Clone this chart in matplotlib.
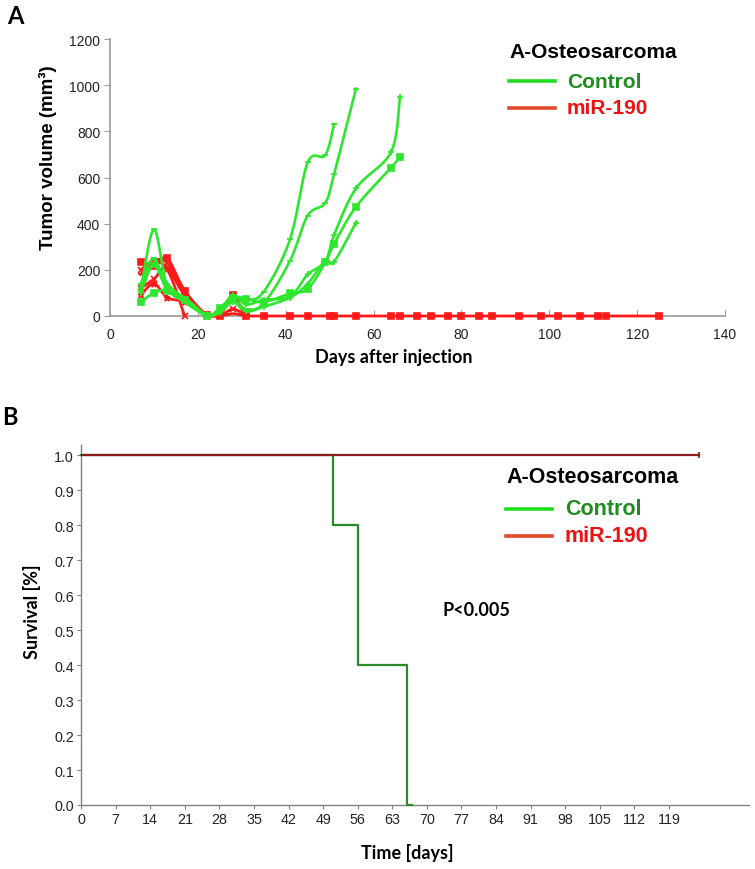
import numpy as np
import matplotlib
matplotlib.use("Agg")
import matplotlib.pyplot as plt
from matplotlib.lines import Line2D

W, H = 755, 870
ARIAL = "Liberation Sans"
CALIBRI = "Lato"

# ---- panel A: tumor volume (mm3) per mouse ----
ctrl_days = [
    [7, 10, 13, 17, 22, 25, 28, 31, 35, 41, 45, 49, 51, 56],
    [7, 10, 13, 17, 22, 25, 28, 31, 35, 41, 45, 49, 51],
    [7, 10, 13, 17, 22, 25, 28, 31, 35, 41, 45, 49, 51, 56, 64, 66],
    [7, 10, 13, 17, 22, 25, 28, 31, 35, 41, 45, 49, 51, 56, 64, 66],
    [7, 10, 13, 17, 22, 25, 28, 31, 35, 41, 45, 49, 51, 56],
]
ctrl_vol = [
    [110, 375, 130, 60, 5, 20, 70, 30, 55, 240, 435, 490, 614, 985],
    [140, 250, 120, 80, 5, 30, 85, 70, 105, 333, 665, 697, 831],
    [60, 100, 110, 70, 0, 35, 80, 75, 60, 98, 117, 232, 312, 473, 643, 687],
    [100, 230, 140, 75, 5, 25, 90, 50, 70, 85, 180, 235, 350, 553, 711, 948],
    [120, 220, 115, 65, 3, 15, 60, 20, 40, 80, 140, 240, 235, 405],
]
ctrl_mk = ["_", "_", "s", "+", "+"]

mir_days = [
    [7, 10, 13, 17, 22, 25, 28, 31, 35, 41, 45, 50, 51, 56, 64, 66, 70, 73, 77,
     80, 84, 87, 93, 98, 102, 107, 111, 113, 125],
    [7, 10, 13, 17, 22, 25, 28, 31],
    [7, 10, 13, 17],
    [7, 10, 13, 17, 22],
    [7, 10, 13, 17, 22, 25, 28, 31],
]
mir_vol = [
    [235, 215, 250, 110, 5, 0, 92, 0, 0, 0, 0, 0, 0, 0, 0, 0, 0, 0, 0,
     0, 0, 0, 0, 0, 0, 0, 0, 0, 0],
    [200, 240, 230, 100, 0, 0, 30, 0],
    [120, 160, 200, 0],
    [90, 140, 80, 60, 0],
    [180, 230, 210, 90, 0, 0, 10, 0],
]
mir_mk = ["s", "x", "x", "*", "_"]

# ---- panel B: Kaplan-Meier ----
km_ctrl_t = [0, 51, 56, 66, 67]
km_ctrl_s = [1.0, 0.8, 0.4, 0.0, 0.0]
km_mir_t = [0, 125]
km_mir_s = [1.0, 1.0]

GREEN = "#2ee62e"
RED = "#ff1a1a"
DKGREEN = "#2a8a2a"
DKRED = "#8b1c1c"


def smooth(x, y, n=20):
    # Excel-style smoothed line (Bezier through points)
    p = np.column_stack([x, y]).astype(float)
    if len(p) < 3:
        return p[:, 0], p[:, 1]
    ext = np.vstack([p[0], p, p[-1]])
    out = []
    t = np.linspace(0, 1, n)[:, None]
    for i in range(1, len(ext) - 2):
        p0, p1, p2, p3 = ext[i - 1], ext[i], ext[i + 1], ext[i + 2]
        c1 = p1 + (p2 - p0) / 6
        c2 = p2 - (p3 - p1) / 6
        seg = ((1 - t) ** 3) * p1 + 3 * ((1 - t) ** 2) * t * c1 + 3 * (1 - t) * t ** 2 * c2 + t ** 3 * p2
        out.append(seg if i == 1 else seg[1:])
    out = np.vstack(out)
    return out[:, 0], out[:, 1]


def fig_legend(fig, y_title, y1, y2, x_line, x_text, size):
    fx = lambda v: v / W
    fy = lambda v: 1 - v / H
    fig.text(fx(x_line), fy(y_title), "A-Osteosarcoma", family=ARIAL, weight="bold",
             fontsize=size, va="center", ha="left", color="black")
    for yy, lab, lc, tc in [(y1, "Control", "#22dd22", "#1e8c1e"),
                            (y2, "miR-190", "#e04a2a", "#ee1111")]:
        fig.add_artist(Line2D([fx(x_line), fx(x_line + 46)], [fy(yy), fy(yy)],
                              color=lc, lw=2.6, transform=fig.transFigure))
        fig.text(fx(x_text), fy(yy), lab, family=ARIAL, weight="bold",
                 fontsize=size, va="center", ha="left", color=tc)


fig = plt.figure(figsize=(W / 100, H / 100), dpi=100)

# ---------------- panel A ----------------
ax1 = fig.add_axes([110 / W, 1 - 317 / H, 615 / W, 277 / H])
for d, v, m in zip(mir_days, mir_vol, mir_mk):
    sx, sy = smooth(d, v)
    ax1.plot(sx, np.maximum(sy, 0), color=RED, lw=2.0, zorder=3, clip_on=False)
    ax1.plot(d, v, ls="none", marker=m, color=RED, ms=5, mew=1.2, zorder=3.5, clip_on=False)
for d, v, m in zip(ctrl_days, ctrl_vol, ctrl_mk):
    sx, sy = smooth(d, v)
    ax1.plot(sx, np.maximum(sy, 0), color=GREEN, lw=1.9, zorder=4, clip_on=False)
    ax1.plot(d, v, ls="none", marker=m, color=GREEN, ms=5, mew=1.2, zorder=5, clip_on=False)
ax1.set_xlim(0, 140)
ax1.set_ylim(0, 1200)
ax1.set_xticks(np.arange(0, 141, 20))
ax1.set_yticks(np.arange(0, 1201, 200))
for s in ["top", "right"]:
    ax1.spines[s].set_visible(False)
for s in ["left", "bottom"]:
    ax1.spines[s].set_color("#9a9a9a")
    ax1.spines[s].set_linewidth(1.2)
ax1.tick_params(axis="y", direction="out", length=4, color="#9a9a9a", labelsize=10,
                labelcolor="#222222", pad=3)
ax1.tick_params(axis="x", direction="in", length=4, color="#9a9a9a", labelsize=10,
                labelcolor="#222222", pad=8)
for lab in ax1.get_xticklabels() + ax1.get_yticklabels():
    lab.set_family(ARIAL)
ax1.text(-0.101, 0.574, "Tumor volume (mm³)", transform=ax1.transAxes, rotation=90,
         family=ARIAL, weight="bold", fontsize=13.5, ha="center", va="center")
ax1.text(0.462, -0.148, "Days after injection", transform=ax1.transAxes,
         family=CALIBRI, weight="bold", fontsize=13, ha="center", va="center")
fig_legend(fig, 52, 82, 109, 509, 567, 15)
fig.text(15 / W, 1 - 16 / H, "A", family=CALIBRI, weight="bold", fontsize=17,
         ha="center", va="center")

# ---------------- panel B ----------------
ax2 = fig.add_axes([81 / W, 1 - 806 / H, 668 / W, 360 / H])
ax2.plot(km_ctrl_t, km_ctrl_s, drawstyle="steps-post", color=DKGREEN, lw=1.6, zorder=3,
         clip_on=False)
ax2.plot(km_mir_t, km_mir_s, color=DKRED, lw=1.6, zorder=3.5)
ax2.plot([km_mir_t[-1]], [km_mir_s[-1]], marker="|", color=DKRED, ms=5, mew=1.2, zorder=3.5)
ax2.set_xlim(0, 135.2)
ax2.set_ylim(0, 1.0286)
ax2.set_xticks(np.arange(0, 120, 7))
ax2.set_yticks(np.round(np.arange(0, 1.01, 0.1), 1))
ax2.yaxis.set_major_formatter(matplotlib.ticker.FormatStrFormatter("%.1f"))
for s in ["top", "right"]:
    ax2.spines[s].set_visible(False)
for s in ["left", "bottom"]:
    ax2.spines[s].set_color("#808080")
    ax2.spines[s].set_linewidth(1.0)
ax2.tick_params(direction="out", length=3, color="#808080", labelsize=10.3,
                labelcolor="#222222", pad=2)
for lab in ax2.get_xticklabels() + ax2.get_yticklabels():
    lab.set_family(ARIAL)
ax2.text(-0.0734, 0.539, "Survival [%]", transform=ax2.transAxes, rotation=90,
         family=CALIBRI, weight="bold", fontsize=13, ha="center", va="center")
ax2.text(0.488, -0.131, "Time [days]", transform=ax2.transAxes,
         family=CALIBRI, weight="bold", fontsize=13, ha="center", va="center")
fig.text(476 / W, 1 - 610 / H, "P<0.005", family=CALIBRI, weight="bold", fontsize=13,
         ha="center", va="center")
fig_legend(fig, 478, 510, 537, 506, 565, 15.5)
fig.text(10 / W, 1 - 418 / H, "B", family=CALIBRI, weight="bold", fontsize=17,
         ha="center", va="center")

fig.savefig("out.png", dpi=100)
